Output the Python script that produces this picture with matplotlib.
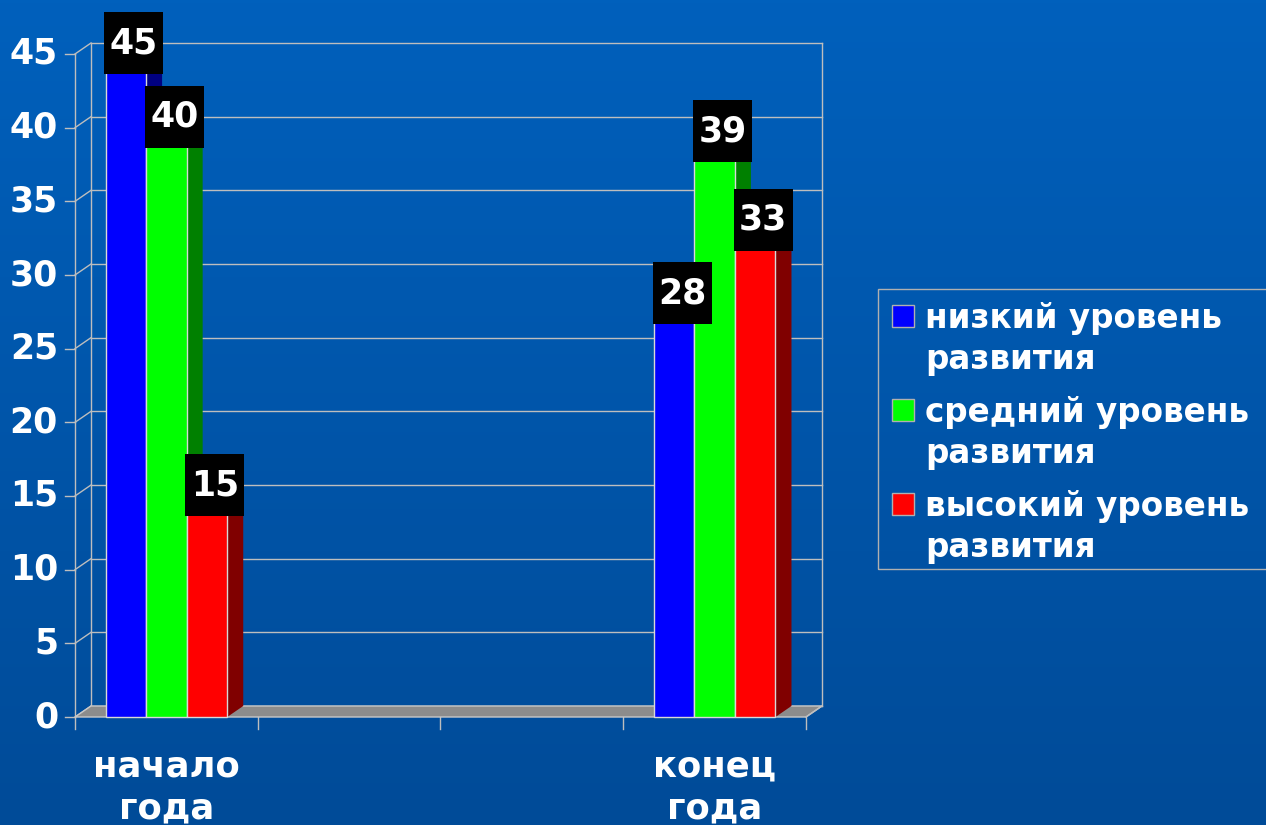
import numpy as np
from matplotlib import pyplot as plt
from matplotlib.colors import LinearSegmentedColormap
from matplotlib.patches import Rectangle, Polygon

# данные
categories = ["начало\nгода", "", "", "конец\nгода"]
series = ["низкий уровень\nразвития", "средний уровень\nразвития", "высокий уровень\nразвития"]
low = [45, 0, 0, 28]
mid = [40, 0, 0, 39]
high = [15, 0, 0, 33]
yticks = [0, 5, 10, 15, 20, 25, 30, 35, 40, 45]

values = [low, mid, high]
front = ["#0000FF", "#00FF00", "#FF0000"]
side = ["#000080", "#008000", "#800000"]
top = ["#3333FF", "#33FF33", "#FF3333"]

plt.rcParams['font.family'] = ['DejaVu Sans']
plt.rcParams['font.weight'] = 'bold'

W, H = 1266, 825
fig = plt.figure(figsize=(W / 100, H / 100), dpi=100)

# фон - градиент
bg = fig.add_axes([0, 0, 1, 1])
grad = np.linspace(1, 0, 256).reshape(-1, 1)
cmap = LinearSegmentedColormap.from_list("bg", ["#004B98", "#0060BC"])
bg.imshow(grad, aspect='auto', cmap=cmap, extent=[0, 1, 0, 1])
bg.axis('off')

ax = fig.add_axes([75 / W, 108 / H, 731 / W, 663 / H])
ax.set_xlim(0, len(categories))
ax.set_ylim(0, 45)
ax.axis('off')

px_x = len(categories) / 731.0
px_y = 45 / 663.0
dx = 16 * px_x
dy = 11 * px_y
grid_c = "#BEBEBE"
nx = len(categories)

# стенки и сетка
for v in yticks:
    ax.plot([dx, nx + dx], [v + dy, v + dy], color=grid_c, lw=1, clip_on=False, zorder=1)
    ax.plot([0, dx], [v, v + dy], color=grid_c, lw=1, clip_on=False, zorder=1)
    ax.plot([-10 * px_x, 0], [v, v], color=grid_c, lw=1, clip_on=False, zorder=1)
    ax.text(-17 * px_x, v, str(v), ha='right', va='center', color='white',
            fontsize=25, fontweight='bold', clip_on=False)
ax.plot([0, 0], [0, 45], color=grid_c, lw=1, clip_on=False, zorder=1)
ax.plot([dx, dx], [dy, 45 + dy], color=grid_c, lw=1, clip_on=False, zorder=1)
ax.plot([nx + dx, nx + dx], [dy, 45 + dy], color=grid_c, lw=1, clip_on=False, zorder=1)

# пол
ax.add_patch(Polygon([[0, 0], [nx, 0], [nx + dx, dy], [dx, dy]], closed=True,
                     facecolor="#8C8C8C", edgecolor="#C8C8C8", lw=1, zorder=2, clip_on=False))
ax.plot([nx, nx + dx], [0, dy], color=grid_c, lw=1, clip_on=False, zorder=2)

# ось x
for i in range(nx + 1):
    ax.plot([i, i], [0, -12 * px_y], color=grid_c, lw=1, clip_on=False, zorder=1)
for i, c in enumerate(categories):
    if c:
        ax.text(i + 0.5, -2.2, c, ha='center', va='top', color='white',
                fontsize=25.5, fontweight='bold', linespacing=1.3, clip_on=False)

# столбцы
bw = 0.222
x = np.arange(nx) + 0.5
z = 3
for s, vals in enumerate(values):
    xs = x + (s - 1) * bw
    for xi, v in zip(xs, vals):
        if v == 0:
            continue
        x0, x1 = xi - bw / 2, xi + bw / 2
        ax.add_patch(Polygon([[x1, 0], [x1 + dx, dy], [x1 + dx, v + dy], [x1, v]],
                             closed=True, facecolor=side[s], edgecolor='none', zorder=z, clip_on=False))
        ax.add_patch(Polygon([[x0, v], [x1, v], [x1 + dx, v + dy], [x0 + dx, v + dy]],
                             closed=True, facecolor=top[s], edgecolor='none', zorder=z, clip_on=False))
        z += 1
    ax.bar(xs, [v if v else np.nan for v in vals], width=bw, color=front[s],
           edgecolor="#D8D8D8", linewidth=1, zorder=z, clip_on=False)
    z += 1

# подписи значений
bw_px, bh_px = 59 * px_x, 62 * px_y
for s, vals in enumerate(values):
    xs = x + (s - 1) * bw
    for xi, v in zip(xs, vals):
        if v == 0:
            continue
        cx, cy = xi + dx / 2, v + dy
        ax.add_patch(Rectangle((cx - bw_px / 2, cy - bh_px / 2), bw_px, bh_px,
                               facecolor='black', edgecolor='none', zorder=20, clip_on=False))
        ax.text(cx, cy, str(v), ha='center', va='center', color='white',
                fontsize=25, fontweight='bold', zorder=21, clip_on=False)

# легенда
fig.patches.append(Rectangle((878 / W, 1 - 569 / H), 400 / W, 280 / H, transform=fig.transFigure,
                             fill=False, edgecolor="#B0B0B0", lw=1))
for s, name in enumerate(series):
    ty = 305 + 94 * s
    fig.patches.append(Rectangle((892 / W, 1 - (ty + 22) / H), 22 / W, 22 / H,
                                 transform=fig.transFigure, facecolor=front[s],
                                 edgecolor="#B0B0B0", lw=1))
    fig.text(925 / W, 1 - (ty - 3) / H, name, ha='left', va='top', color='white',
             fontsize=23.5, fontweight='bold', linespacing=1.3)

plt.savefig("out.png", dpi=100)
